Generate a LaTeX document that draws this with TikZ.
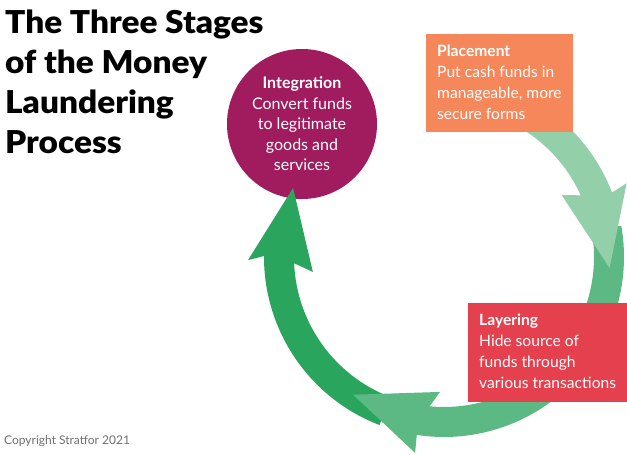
\documentclass[tikz,border=0pt]{standalone}
\usepackage{fontspec}
\setmainfont{Lato}
\IfFontExistsTF{Lato Black}{\newfontfamily\titlefont{Lato Black}[FakeStretch=1.06]}{\newfontfamily\titlefont{Lato Bold}[FakeBold=1.5,FakeStretch=1.06]}
\definecolor{integcol}{HTML}{A11C5E}
\definecolor{placecol}{HTML}{F5875B}
\definecolor{layercol}{HTML}{E5404D}
\definecolor{glight}{HTML}{93D0AA}
\definecolor{gmed}{HTML}{5DB983}
\definecolor{gdark}{HTML}{2AA55E}
\definecolor{copycol}{HTML}{707070}
\begin{document}
\begin{tikzpicture}[x=1pt,y=1pt,
  bodytext/.style={font=\fontsize{15.6}{21}\selectfont, text=white, inner sep=0pt, align=left, anchor=north west},
  stagebox/.style={inner sep=0pt, anchor=north west}]
\useasboundingbox (0,0) rectangle (627,455);
\fill[white] (0,0) rectangle (627,455);

% title
\node[font=\fontsize{31.5}{40}\titlefont, anchor=north west, align=left, inner sep=0pt] (title) at (5,445.5) {The Three Stages\\of the Money\\Laundering\\Process};

% integration circle
\node[circle, fill=integcol, minimum size=150pt, inner sep=0pt, text=white, align=center, font=\fontsize{16}{20.5}\selectfont] (integ) at (302,331) {\textbf{Integration}\\Convert funds\\to legitimate\\goods and\\services};

% cycle arrows
\begin{scope}[shift={(444,198)}]
\fill[gdark] (249:180pt) arc[start angle=249, end angle=179.7, radius=180pt] -- (180.9:196pt) -- (155.4:166pt) -- (186.5:132pt) -- (182.4:150pt) arc[start angle=182.4, end angle=249, radius=150pt] -- cycle;
\fill[gmed] (10:180pt) arc[start angle=10, end angle=-98.7, radius=180pt] -- (-98.4:198pt) -- (-123.4:165pt) -- (-91.7:135pt) -- (-95.5:150pt) arc[start angle=-95.5, end angle=10, radius=150pt] -- cycle;
\fill[glight] (75:180pt) arc[start angle=75, end angle=21, radius=180pt] -- (22:197pt) -- (-3.8:166pt) -- (27.7:133pt) -- (24.3:150pt) arc[start angle=24.3, end angle=75, radius=150pt] -- cycle;
\end{scope}

% placement
\node[stagebox, fill=placecol, minimum width=147pt, minimum height=98pt] (place) at (426,421) {};
\node[bodytext] (placetext) at ([xshift=11pt, yshift=-11pt]place.north west) {\textbf{Placement}\\Put cash funds in\\manageable, more\\secure forms};

% layering
\node[stagebox, fill=layercol, minimum width=159pt, minimum height=99pt] (layer) at (468,152) {};
\node[bodytext] (layertext) at ([xshift=11pt, yshift=-11pt]layer.north west) {\textbf{Layering}\\Hide source of\\funds through\\various transactions};

% copyright
\node[font=\fontsize{12}{14}\selectfont, text=copycol, anchor=base west, inner sep=0pt] (copy) at (4,10) {Copyright Stratfor 2021};
\end{tikzpicture}
\end{document}
